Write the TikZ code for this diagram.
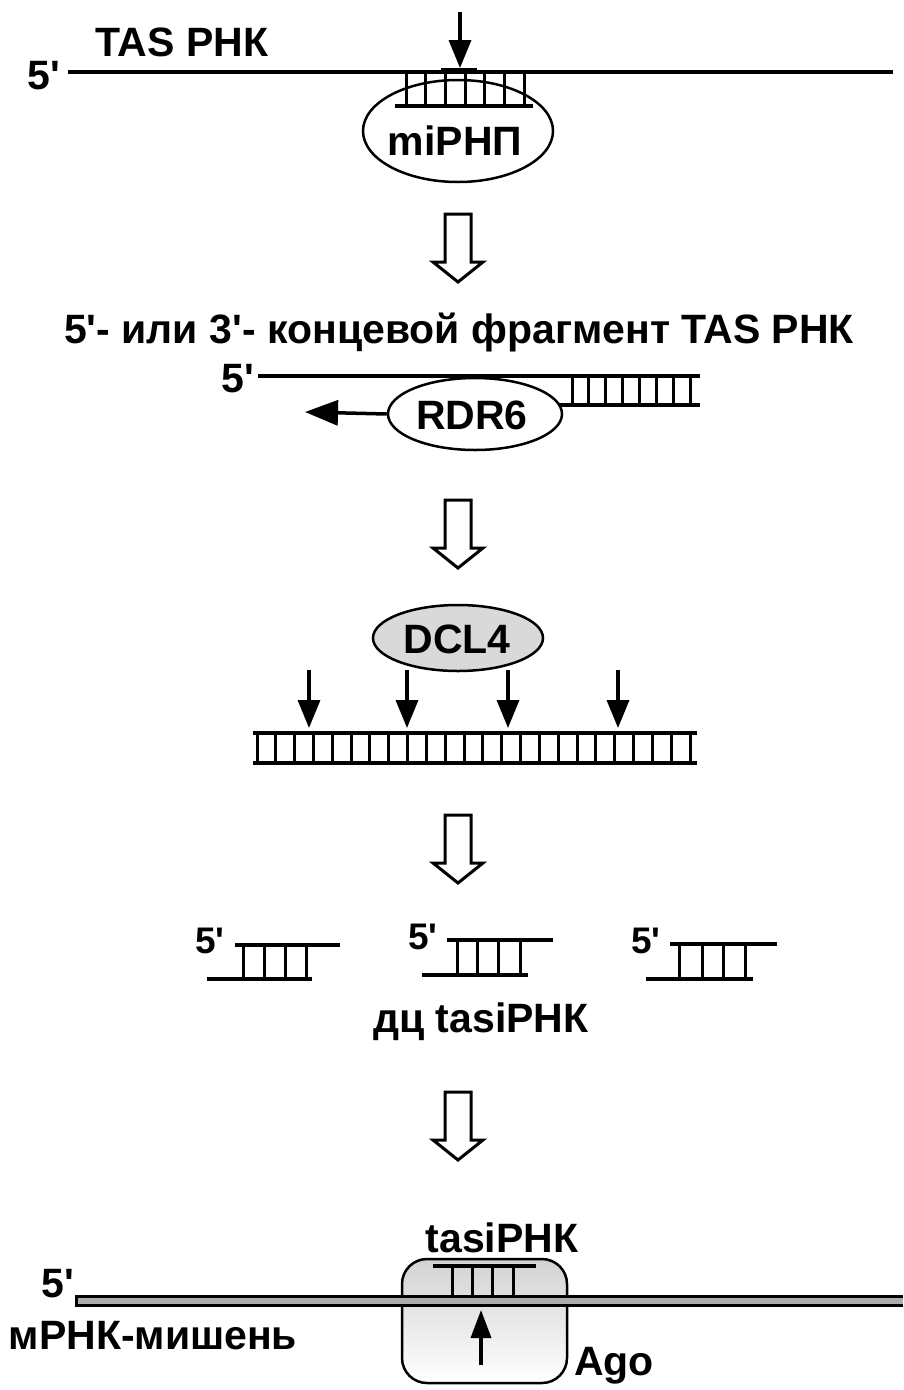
\documentclass[tikz,border=0pt]{standalone}
\usepackage{fontspec}
\setmainfont{Liberation Sans}[Ligatures=TeXOff]
\usetikzlibrary{arrows.meta,shapes.geometric}
\begin{document}
\begin{tikzpicture}[x=1pt,y=-1pt,
  strand/.style={line width=4pt},
  thickstrand/.style={line width=4.5pt},
  rung/.style={line width=3pt},
  lbl/.style={font=\fontsize{41}{42}\selectfont\bfseries, inner sep=0pt},
  smlbl/.style={font=\fontsize{37}{38}\selectfont\bfseries, inner sep=0pt},
  cutarrow/.style={line width=3.5pt, -{Triangle[length=28pt,width=22pt]}},
  blob/.style={ellipse, draw, line width=2.5pt, inner sep=0pt},
  bigarrow/.pic={\draw[line width=3pt, fill=white, line join=miter]
     (-13,0) -- (13,0) -- (13,48) -- (25,48) -- (0,68) -- (-25,48) -- (-13,48) -- cycle;}
]
\useasboundingbox (0,0) rectangle (903,1390);

% ---------- panel 1 ----------
\node[lbl] (tas) at (182,42) {TAS РНК};
\node[lbl] (p1) at (44,76) {5'};
\node[blob, minimum width=190pt, minimum height=102pt] (mirnp) at (458,131) {};
\node[lbl] (mirnptxt) at (455,141) {miРНП};
\coordinate (l1a) at (68,72);
\coordinate (l1b) at (893,72);
\draw[strand] (l1a) -- (l1b);
\coordinate (r1a) at (395,106);
\coordinate (r1b) at (533,106);
\draw[strand] (r1a) -- (r1b);
\foreach \i in {0,...,6} {\draw[rung] (406+19.7*\i,72) -- (406+19.7*\i,106);}
\draw[line width=6pt] (441,71) -- (477,71);
\coordinate (c1a) at (460,12);
\coordinate (c1b) at (460,68);
\draw[cutarrow] (c1a) -- (c1b);

\pic at (458,214) {bigarrow};

% ---------- panel 2 ----------
\node[lbl] (frag) at (459,332) {5'- или 3'- концевой фрагмент TAS РНК};
\node[lbl] (p2) at (238,379) {5'};
\coordinate (l2a) at (258,376);
\coordinate (l2b) at (700,376);
\draw[strand] (l2a) -- (l2b);
\coordinate (r2a) at (558,405);
\coordinate (r2b) at (700,405);
\draw[strand] (r2a) -- (r2b);
\foreach \i in {0,...,7} {\draw[rung] (572+16.9*\i,376) -- (572+16.9*\i,405);}
\node[blob, fill=white, minimum width=174pt, minimum height=72pt] (rdr) at (475,414) {};
\node[lbl] (rdrtxt) at (472,415) {RDR6};
\coordinate (ar2) at (305,412);
\draw[line width=3.5pt, -{Triangle[length=33pt,width=25pt]}] (rdr.west) -- (ar2);

\pic at (458,500) {bigarrow};

% ---------- panel 3 ----------
\node[blob, fill=gray!30, minimum width=170pt, minimum height=66pt] (dcl) at (458,638) {};
\node[lbl] (dcltxt) at (457,639) {DCL4};
\foreach \x in {309,407,508,618} {\draw[cutarrow] (\x,670) -- (\x,728);}
\coordinate (l3a) at (253,733);
\coordinate (l3b) at (697,733);
\coordinate (r3a) at (253,763);
\coordinate (r3b) at (697,763);
\draw[thickstrand] (l3a) -- (l3b);
\draw[thickstrand] (r3a) -- (r3b);
\foreach \i in {0,...,23} {\draw[rung] (257+18.83*\i,733) -- (257+18.83*\i,763);}

\pic at (458,815) {bigarrow};

% ---------- panel 4 ----------
\node[smlbl] (f1) at (210,941) {5'};
\draw[strand] (235,945) -- (340,945);
\draw[strand] (207,979) -- (312,979);
\foreach \x in {243,264,285,306} {\draw[rung] (\x,945) -- (\x,979);}
\node[smlbl] (f2) at (423,937) {5'};
\draw[strand] (447,940) -- (553,940);
\draw[strand] (422,975) -- (528,975);
\foreach \x in {457,477,498,520} {\draw[rung] (\x,940) -- (\x,975);}
\node[smlbl] (f3) at (646,941) {5'};
\draw[strand] (670,944) -- (777,944);
\draw[strand] (646,979) -- (753,979);
\foreach \x in {679,702,723,745} {\draw[rung] (\x,944) -- (\x,979);}
\node[lbl] (ds) at (481,1022) {дц tasiРНК};

\pic at (458,1092) {bigarrow};

% ---------- panel 5 ----------
\node[lbl] (tasi) at (502,1238) {tasiРНК};
\node[draw, line width=2.5pt, rounded corners=25pt, minimum width=165pt, minimum height=124pt,
      top color=gray!35, bottom color=white, inner sep=0pt] (ago) at (484.5,1321) {};
\coordinate (m1) at (75,1301);
\coordinate (m2) at (903,1301);
\draw[line width=12pt] (m1) -- (m2);
\draw[line width=6pt, gray!65] (77.5,1301) -- (m2);
\draw[strand] (433,1266) -- (536,1266);
\foreach \x in {452,472,492,513} {\draw[rung] (\x,1266) -- (\x,1296);}
\coordinate (u1) at (481,1365);
\coordinate (u2) at (481,1310);
\draw[line width=3.5pt, -{Triangle[length=28pt,width=20pt]}] (u1) -- (u2);
\node[lbl] (p5) at (58,1284) {5'};
\node[lbl] (mrna) at (153,1336) {мРНК-мишень};
\node[lbl] (agotxt) at (614,1366) {Ago};
\end{tikzpicture}
\end{document}
